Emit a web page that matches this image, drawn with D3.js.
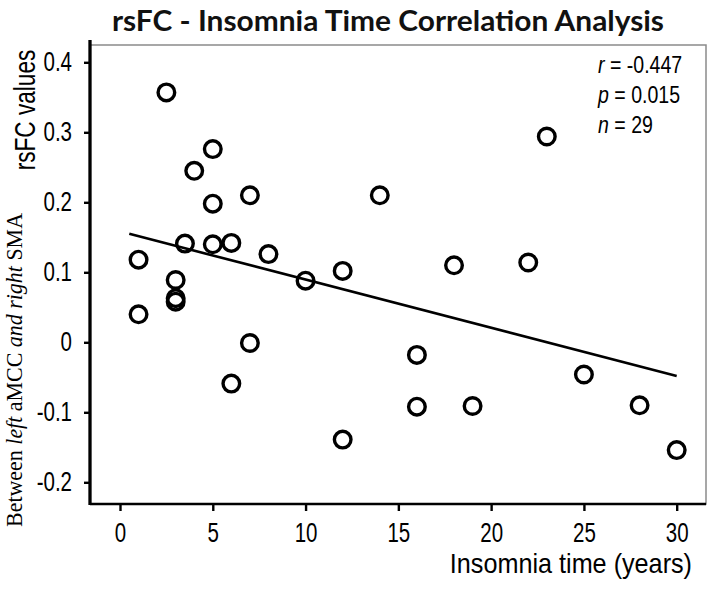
<!DOCTYPE html>
<html><head><meta charset="utf-8">
<script src="https://cdn.jsdelivr.net/npm/d3@7"></script>
<style>body{margin:0;background:#fff}</style>
</head><body>
<svg id="chart" width="709" height="589"></svg>
<script>
// ---- data ----
const insomniaYears = [2.5, 5, 4, 7, 5, 3.5, 5, 6, 1, 8, 10, 12, 3, 3, 3, 1, 7, 6, 12, 23, 14, 18, 22, 16, 25, 16, 19, 28, 30];
const rsfcValues = [0.357, 0.276, 0.245, 0.210, 0.198, 0.141, 0.140, 0.142, 0.118, 0.126, 0.088, 0.102, 0.089, 0.063, 0.058, 0.040, -0.001, -0.059, -0.139, 0.294, 0.210, 0.110, 0.114, -0.018, -0.046, -0.092, -0.091, -0.090, -0.154];
const fitYears = [0.5, 30];
const fitValues = [0.155, -0.048];
const xTicks = [0, 5, 10, 15, 20, 25, 30];
const yTicks = [-0.2, -0.1, 0, 0.1, 0.2, 0.3, 0.4];
const yTickLabels = ["-0.2", "-0.1", "0", "0.1", "0.2", "0.3", "0.4"];
const statSymbols = ["r", "p", "n"];
const statValues = [" = -0.447", " = 0.015", " = 29"];
const titleText = "rsFC - Insomnia Time Correlation Analysis";
const xTitle = "Insomnia time (years)";
const yTitle1 = "rsFC values";
const yTitle2Parts = [["Between ", false], ["left", true], [" aMCC ", false], ["and", true], [" ", false], ["right", true], [" SMA", false]];

// ---- layout ----
const svg = d3.select("#chart");
const frame = {left: 90, top: 45, right: 706, bottom: 504};
const x = d3.scaleLinear().domain([0, 30]).range([120, 676.7]);
const y = d3.scaleLinear().domain([-0.2, 0.4]).range([482.3, 62.3]);
const sans = "'Liberation Sans', Arial, sans-serif";

// title
svg.append("text")
  .attr("x", 388).attr("y", 31)
  .attr("text-anchor", "middle")
  .attr("font-family", "Lato, 'Open Sans', sans-serif")
  .attr("font-weight", 700)
  .attr("font-size", 29)
  .attr("textLength", 552).attr("lengthAdjust", "spacingAndGlyphs")
  .attr("fill", "#111")
  .text(titleText);

// frame
svg.append("rect")
  .attr("x", frame.left).attr("y", frame.top)
  .attr("width", frame.right - frame.left).attr("height", frame.bottom - frame.top)
  .attr("fill", "none").attr("stroke", "#8a8a8a").attr("stroke-width", 1.5);

// x axis
const xAxis = svg.append("g").attr("transform", `translate(0,${frame.bottom})`)
  .call(d3.axisBottom(x).tickValues(xTicks).tickSize(7).tickFormat(d3.format("d")));
xAxis.select(".domain").remove();
xAxis.selectAll(".tick line").attr("stroke", "#000").attr("stroke-width", 2.4);
xAxis.selectAll(".tick text")
  .attr("y", 0).attr("dy", 0)
  .attr("transform", "translate(0,38) scale(0.76,1)")
  .attr("font-family", sans).attr("font-size", 27).attr("fill", "#000");
svg.append("line")
  .attr("x1", frame.left).attr("x2", frame.right)
  .attr("y1", frame.bottom).attr("y2", frame.bottom)
  .attr("stroke", "#000").attr("stroke-width", 2.4);

// y axis
const yAxis = svg.append("g").attr("transform", `translate(${frame.left},0)`)
  .call(d3.axisLeft(y).tickValues(yTicks).tickSize(6).tickFormat((d, i) => yTickLabels[i]));
yAxis.select(".domain").remove();
yAxis.selectAll(".tick line").attr("stroke", "#000").attr("stroke-width", 2.4);
yAxis.selectAll(".tick text")
  .attr("x", 0)
  .attr("transform", "translate(-18,0) scale(0.76,1)")
  .attr("font-family", sans).attr("font-size", 27).attr("fill", "#000");
svg.append("line")
  .attr("x1", frame.left).attr("x2", frame.left)
  .attr("y1", 40).attr("y2", frame.bottom + 1)
  .attr("stroke", "#000").attr("stroke-width", 3.3);

// regression line
svg.append("line")
  .attr("x1", x(fitYears[0])).attr("y1", y(fitValues[0]))
  .attr("x2", x(fitYears[1])).attr("y2", y(fitValues[1]))
  .attr("stroke", "#000").attr("stroke-width", 2.6);

// points
svg.append("g").selectAll("circle")
  .data(insomniaYears.map((d, i) => [d, rsfcValues[i]]))
  .join("circle")
  .attr("cx", d => x(d[0])).attr("cy", d => y(d[1]))
  .attr("r", 8.3)
  .attr("fill", "none").attr("stroke", "#000").attr("stroke-width", 3.4);

// stats
statSymbols.forEach((s, i) => {
  const t = svg.append("text")
    .attr("transform", `translate(598,${73 + i * 30}) scale(0.85,1)`)
    .attr("font-family", sans).attr("font-size", 23).attr("fill", "#000");
  t.append("tspan").attr("font-style", "italic").text(s);
  t.append("tspan").text(statValues[i]);
});

// x title
svg.append("text")
  .attr("transform", "translate(692,573) scale(0.9,1)")
  .attr("text-anchor", "end")
  .attr("font-family", sans).attr("font-size", 28).attr("fill", "#000")
  .text(xTitle);

// y titles
svg.append("text")
  .attr("transform", "translate(35,110) rotate(-90) scale(0.78,1)")
  .attr("text-anchor", "middle")
  .attr("font-family", sans).attr("font-size", 29).attr("fill", "#000")
  .text(yTitle1);

const yt2 = svg.append("text")
  .attr("transform", "translate(22,370) rotate(-90)")
  .attr("text-anchor", "middle")
  .attr("font-family", "'Liberation Serif', 'DejaVu Serif', serif")
  .attr("font-size", 24).attr("fill", "#000")
  .attr("textLength", 314).attr("lengthAdjust", "spacingAndGlyphs");
yTitle2Parts.forEach(([txt, it]) => {
  yt2.append("tspan").attr("font-style", it ? "italic" : "normal").text(txt);
});
</script>
</body></html>
